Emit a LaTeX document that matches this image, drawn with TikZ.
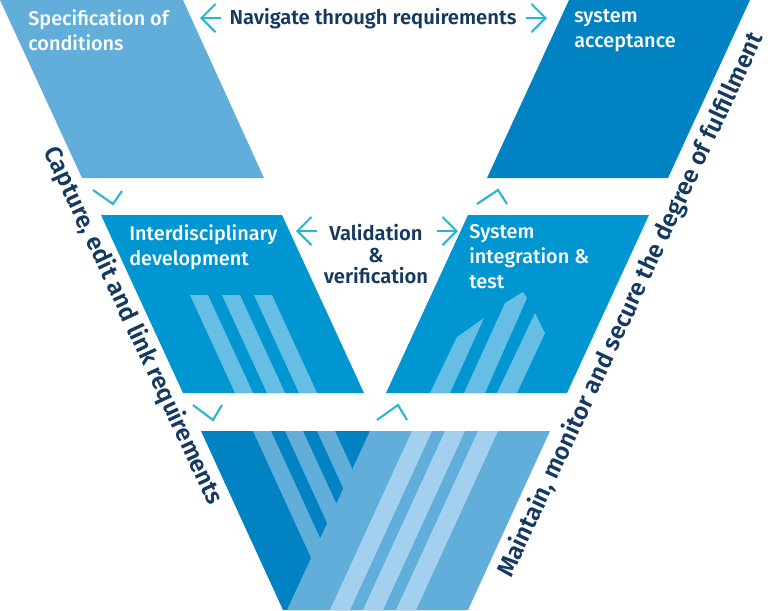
\documentclass[tikz,border=0pt]{standalone}
\usepackage{fontspec}
\setmainfont{Fira Sans}
\newfontfamily\boxfont{Fira Sans Medium}
\newfontfamily\navyfont{Fira Sans SemiBold}
\usetikzlibrary{calc,arrows.meta}

\definecolor{vlight}{HTML}{62AEDB}
\definecolor{vdark}{HTML}{0082C3}
\definecolor{vmid}{HTML}{0096D2}
\definecolor{vstripe}{HTML}{66BEE5}
\definecolor{vpale}{HTML}{A2D0EE}
\definecolor{vnavy}{HTML}{163A5F}
\definecolor{vcyan}{HTML}{2DB4D0}

\begin{document}
\begin{tikzpicture}[x=0.02cm,y=-0.02cm,
	boxtext/.style={text=white,font=\boxfont\fontsize{11.3}{14.3}\selectfont,align=left,anchor=north west,inner sep=0pt,execute at begin node=\strut},
	navytext/.style={text=vnavy,font=\navyfont\fontsize{11.5}{12.3}\selectfont,align=center,inner sep=0pt},
	sidetext/.style={text=vnavy,font=\navyfont\fontsize{13.8}{15}\selectfont,inner sep=0pt},
	chev/.style={vcyan,line width=1.2pt},
	navarrow/.style={chev,-{Straight Barb[length=8pt,width=16pt]}}]

	\useasboundingbox (0,0) rectangle (768,610);

	%Boxes
	\fill[vlight] (0,0) -- (183,0) -- (264,178) -- (82,178) -- cycle;
	\fill[vdark] (569,0) -- (750,0) -- (668,178) -- (487,178) -- cycle;
	\fill[vmid] (101,215) -- (282,215) -- (364,393) -- (183,393) -- cycle;
	\fill[vmid] (468,215) -- (649,215) -- (567,393) -- (386,393) -- cycle;

	%Stripes development
	\foreach \s in {0,1,2}
		\fill[vstripe] (190+32*\s,295) -- (208+32*\s,295) -- (253+32*\s,393) -- (235+32*\s,393) -- cycle;

	%Stripes integration
	\fill[vstripe] (430,393) -- (457,337) -- (484,318) -- (450,393) -- cycle;
	\fill[vstripe] (464,393) -- (505,303) -- (523,292) -- (527,298) -- (485,393) -- cycle;
	\fill[vstripe] (497,393) -- (535,313) -- (545,333) -- (517,393) -- cycle;

	%Bottom of the V
	\fill[vdark] (201,431) -- (383,431) -- (465,610) -- (283,610) -- cycle;
	\foreach \s in {0,1,2}
		\fill[vlight] (253+32*\s,431) -- (271+32*\s,431) -- (353+32*\s,610) -- (335+32*\s,610) -- cycle;
	\fill[vlight] (370,431) -- (550,431) -- (468,610) -- (287,610) -- cycle;
	\foreach \s in {0,1,2}
		\fill[vpale] (412+33*\s,431) -- (432+33*\s,431) -- (350+33*\s,610) -- (330+33*\s,610) -- cycle;

	%Labels
	\node[boxtext] (Spec) at (28,9) {Specification of\\conditions};
	\node[boxtext] (Acc) at (574,9) {system\\acceptance};
	\node[boxtext] (Dev) at (129,224) {Interdisciplinary\\development};
	\node[boxtext] (Int) at (469,224) {System\\integration \&\\test};
	\node[navytext,anchor=base] (Nav) at (373,24) {Navigate through requirements};
	\node[navytext,anchor=north,execute at begin node=\strut] (Val) at (376,224) {Validation\\\&\\verification};
	\node[sidetext,rotate=-65] (Cap) at (133,326) {Capture, edit and link requirements};
	\node[sidetext,rotate=65] (Mon) at (631,305) {Maintain, monitor and secure the degree of fulfillment};

	%Arrows
	\draw[navarrow] ($(Nav.base)+(-152,-6)$) -- ++(-21,0);
	\draw[navarrow] ($(Nav.base)+(153,-6)$) -- ++(21,0);
	\coordinate (ValL) at (317,231);
	\coordinate (ValR) at (437,231);
	\draw[navarrow] (ValL) -- ++(-21,0);
	\draw[navarrow] (ValR) -- ++(21,0);

	%Chevrons along the V
	\coordinate (c1) at (113,204);
	\coordinate (c2) at (213,420);
	\coordinate (c3) at (398,405);
	\coordinate (c4) at (498,190);
	\draw[chev] ($(c1)+(-20,-14)$) -- (c1) -- ($(c1)+(9,-13)$);
	\draw[chev] ($(c2)+(-20,-15)$) -- (c2) -- ($(c2)+(9,-15)$);
	\draw[chev] ($(c3)+(-21,15)$) -- (c3) -- ($(c3)+(9,15)$);
	\draw[chev] ($(c4)+(-21,14)$) -- (c4) -- ($(c4)+(9,14)$);

\end{tikzpicture}
\end{document}
